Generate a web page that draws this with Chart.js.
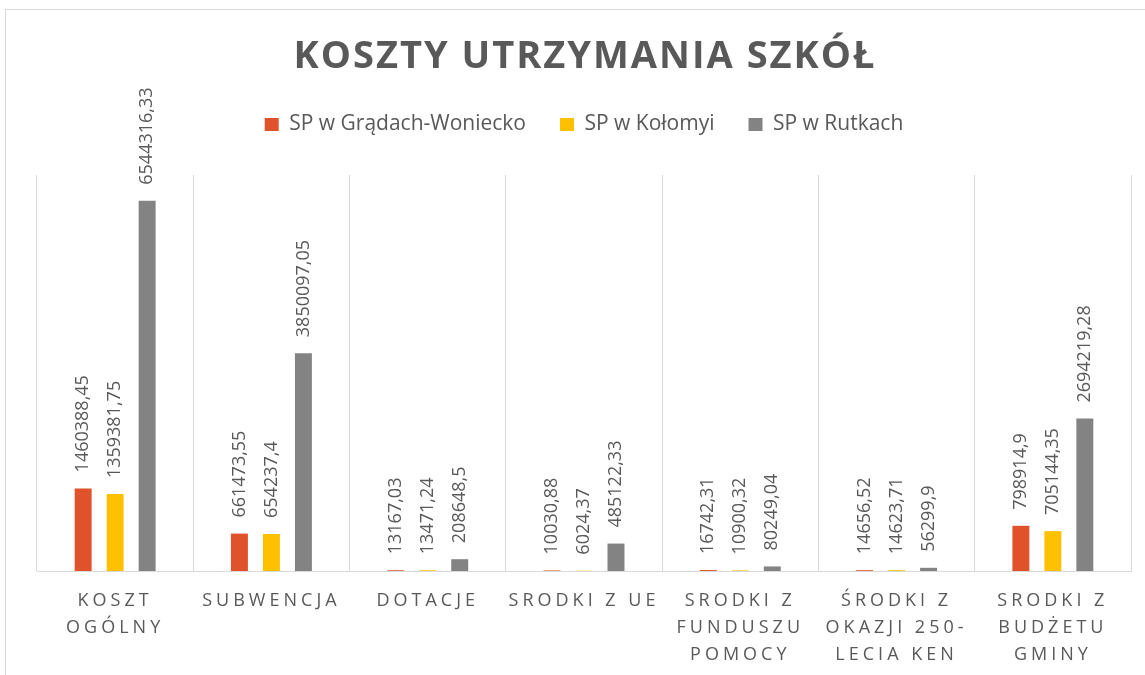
<!DOCTYPE html>
<html lang="pl">
<head>
<meta charset="utf-8">
<title>Koszty utrzymania szkół</title>
<script src="https://cdn.jsdelivr.net/npm/chart.js@4.4.1/dist/chart.umd.min.js"></script>
<style>
    html, body { margin: 0; padding: 0; overflow: hidden; background: #fff; }
    #frame { position: absolute; left: 5px; top: 9px; width: 1200px; height: 720px; border: 1px solid #d9d9d9; }
    #wrap { position: absolute; left: 0; top: 0; width: 1145px; height: 675px; }
</style>
</head>
<body>
<div id="frame"></div>
<div id="wrap"><canvas id="kosztyChart" width="1145" height="675"></canvas></div>
<script>
// dane z wykresu
const chartTitle = 'KOSZTY UTRZYMANIA SZKÓŁ';
const categories = [
    ['KOSZT', 'OGÓLNY'],
    ['SUBWENCJA'],
    ['DOTACJE'],
    ['SRODKI Z UE'],
    ['SRODKI Z', 'FUNDUSZU', 'POMOCY'],
    ['ŚRODKI Z', 'OKAZJI 250-', 'LECIA KEN'],
    ['SRODKI Z', 'BUDŻETU', 'GMINY']
];
const seriesNames = ['SP w Grądach-Woniecko', 'SP w Kołomyi', 'SP w Rutkach'];
const spGrady = [1460388.45, 661473.55, 13167.03, 10030.88, 16742.31, 14656.52, 798914.9];
const spKolomyja = [1359381.75, 654237.4, 13471.24, 6024.37, 10900.32, 14623.71, 705144.35];
const spRutki = [6544316.33, 3850097.05, 208648.5, 485122.33, 80249.04, 56299.9, 2694219.28];
const yMax = 7000000;

const seriesColors = ['#E0532A', '#FFC000', '#838383'];
const textColor = '#595959';

Chart.defaults.font.family = "'Open Sans', sans-serif";

// liczby w zapisie polskim (przecinek dziesiętny)
function formatPl(value) {
    return String(value).replace('.', ',');
}

// etykiety wartości obrócone o 90°, tytuł z odstępami liter
const labelPlugin = {
    id: 'valueLabels',
    beforeLayout(chart) {
        // więcej miejsca pod legendą
        const legend = chart.legend;
        if (legend && !legend._extraSpace) {
            const fit = legend.fit;
            legend.fit = function() {
                fit.call(this);
                this.height += 30;
            };
            legend._extraSpace = true;
        }
    },
    afterDatasetsDraw(chart) {
        const ctx = chart.ctx;
        ctx.save();
        ctx.font = "18px 'Open Sans'";
        ctx.fillStyle = textColor;
        ctx.textAlign = 'left';
        ctx.textBaseline = 'middle';
        chart.data.datasets.forEach((ds, i) => {
            chart.getDatasetMeta(i).data.forEach((bar, j) => {
                ctx.save();
                ctx.translate(bar.x, bar.y - 16);
                ctx.rotate(-Math.PI / 2);
                ctx.fillText(formatPl(ds.data[j]), 0, 0);
                ctx.restore();
            });
        });
        ctx.restore();
        // podpisy kategorii (ticks.z = 1) rysowane są zaraz po tym
        ctx.letterSpacing = '4px';
    },
    afterDraw(chart) {
        const ctx = chart.ctx;
        ctx.letterSpacing = '2px';
        ctx.save();
        ctx.font = "bold 38px 'Open Sans'";
        ctx.fillStyle = textColor;
        ctx.textAlign = 'center';
        ctx.textBaseline = 'middle';
        const area = chart.chartArea;
        ctx.fillText(chartTitle, (area.left + area.right) / 2 + 1, 57);
        ctx.restore();
        ctx.letterSpacing = '0px';
    }
};

const ctx = document.getElementById('kosztyChart').getContext('2d');

new Chart(ctx, {
    type: 'bar',
    data: {
        labels: categories,
        datasets: [
            { label: seriesNames[0], data: spGrady, backgroundColor: seriesColors[0] },
            { label: seriesNames[1], data: spKolomyja, backgroundColor: seriesColors[1] },
            { label: seriesNames[2], data: spRutki, backgroundColor: seriesColors[2] }
        ]
    },
    options: {
        responsive: false,
        animation: false,
        datasets: {
            bar: {
                categoryPercentage: 0.614,
                barPercentage: 0.53,
                borderWidth: 0
            }
        },
        layout: {
            padding: { top: 80, left: 37, right: 14, bottom: 0 }
        },
        plugins: {
            legend: {
                position: 'top',
                labels: {
                    boxWidth: 14,
                    boxHeight: 13,
                    padding: 34,
                    color: textColor,
                    font: { size: 21 }
                }
            },
            tooltip: { enabled: false }
        },
        scales: {
            x: {
                grid: { color: '#d9d9d9', drawTicks: false },
                border: { color: '#d9d9d9' },
                ticks: {
                    z: 1,
                    color: textColor,
                    font: { size: 18, lineHeight: 1.5 },
                    padding: 16,
                    maxRotation: 0,
                    autoSkip: false
                },
                afterFit: (scale) => { scale.height = 104; }
            },
            y: {
                display: false,
                min: 0,
                max: yMax
            }
        }
    },
    plugins: [labelPlugin]
});
</script>
</body>
</html>
